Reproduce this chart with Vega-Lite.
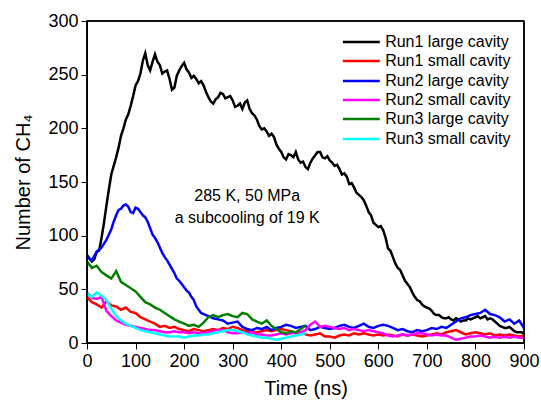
{
  "$schema": "https://vega.github.io/schema/vega-lite/v6.json",
  "width": 437,
  "height": 322,
  "padding": {"left": 87, "top": 21, "right": 17, "bottom": 59},
  "autosize": "none",
  "background": "white",
  "config": {
    "view": {"stroke": "#000000", "strokeWidth": 1.5},
    "axis": {"domainColor": "#000000", "tickColor": "#000000", "zindex": 2}
  },
  "data": {"values": [
    {"t":0,"a":82,"b":43,"c":80,"d":47,"e":76,"f":46},
    {"t":10,"a":76,"b":38,"c":77,"d":42,"e":70,"f":43},
    {"t":20,"a":85,"b":36,"c":85,"d":41,"e":72,"f":47},
    {"t":30,"a":98,"b":33,"c":89,"d":43,"e":66,"f":44},
    {"t":40,"a":128,"b":39,"c":96,"d":30,"e":63,"f":40},
    {"t":50,"a":157,"b":35,"c":106,"d":25,"e":60,"f":32},
    {"t":60,"a":173,"b":34,"c":119,"d":21,"e":67,"f":25},
    {"t":70,"a":193,"b":31,"c":125,"d":19,"e":57,"f":21},
    {"t":80,"a":208,"b":33,"c":129,"d":17,"e":54,"f":18},
    {"t":90,"a":221,"b":29,"c":122,"d":16,"e":51,"f":16},
    {"t":100,"a":240,"b":28,"c":126,"d":15,"e":48,"f":14},
    {"t":110,"a":251,"b":24,"c":122,"d":14,"e":43,"f":12},
    {"t":120,"a":270,"b":22,"c":117,"d":13,"e":38,"f":11},
    {"t":130,"a":254,"b":20,"c":107,"d":12,"e":36,"f":10},
    {"t":140,"a":269,"b":18,"c":98,"d":12,"e":33,"f":9},
    {"t":150,"a":259,"b":15,"c":89,"d":11,"e":31,"f":8},
    {"t":160,"a":253,"b":16,"c":80,"d":10,"e":28,"f":7},
    {"t":170,"a":246,"b":14,"c":73,"d":10,"e":25,"f":6},
    {"t":180,"a":238,"b":15,"c":65,"d":11,"e":22,"f":6},
    {"t":190,"a":254,"b":13,"c":58,"d":10,"e":20,"f":6},
    {"t":200,"a":261,"b":12,"c":52,"d":10,"e":18,"f":5},
    {"t":210,"a":252,"b":11,"c":47,"d":9,"e":16,"f":6},
    {"t":220,"a":249,"b":13,"c":40,"d":10,"e":17,"f":7},
    {"t":230,"a":242,"b":12,"c":31,"d":9,"e":15,"f":7},
    {"t":240,"a":240,"b":11,"c":27,"d":9,"e":19,"f":8},
    {"t":250,"a":229,"b":12,"c":25,"d":10,"e":24,"f":8},
    {"t":260,"a":223,"b":13,"c":23,"d":11,"e":26,"f":9},
    {"t":270,"a":229,"b":12,"c":22,"d":12,"e":24,"f":10},
    {"t":280,"a":232,"b":14,"c":21,"d":12,"e":26,"f":11},
    {"t":290,"a":229,"b":13,"c":18,"d":10,"e":27,"f":12},
    {"t":300,"a":226,"b":15,"c":19,"d":9,"e":25,"f":12},
    {"t":310,"a":221,"b":14,"c":20,"d":9,"e":24,"f":11},
    {"t":320,"a":218,"b":12,"c":15,"d":10,"e":28,"f":10},
    {"t":330,"a":226,"b":11,"c":13,"d":9,"e":27,"f":8},
    {"t":340,"a":214,"b":10,"c":12,"d":10,"e":22,"f":7},
    {"t":350,"a":208,"b":10,"c":14,"d":8,"e":20,"f":6},
    {"t":360,"a":199,"b":11,"c":13,"d":8,"e":18,"f":5},
    {"t":370,"a":197,"b":12,"c":15,"d":7,"e":21,"f":5},
    {"t":380,"a":195,"b":11,"c":12,"d":7,"e":16,"f":4},
    {"t":390,"a":185,"b":12,"c":14,"d":8,"e":13,"f":3},
    {"t":400,"a":178,"b":13,"c":15,"d":9,"e":10,"f":4},
    {"t":410,"a":171,"b":12,"c":17,"d":8,"e":9,"f":5},
    {"t":420,"a":175,"b":11,"c":16,"d":9,"e":11,"f":6},
    {"t":430,"a":178,"b":9,"c":14,"d":10,"e":10,"f":7},
    {"t":440,"a":168,"b":10,"c":15,"d":10,"e":13,"f":8},
    {"t":450,"a":164,"b":8,"c":16,"d":12,"e":16,"f":9},
    {"t":460,"a":168,"b":7,"c":12,"d":17},
    {"t":470,"a":175,"b":8,"c":13,"d":20},
    {"t":480,"a":178,"b":9,"c":15,"d":15},
    {"t":490,"a":172,"b":6,"c":14,"d":16},
    {"t":500,"a":170,"b":6,"c":13,"d":15},
    {"t":510,"a":165,"b":5,"c":14,"d":14},
    {"t":520,"a":162,"b":7,"c":16,"d":13},
    {"t":530,"a":158,"b":8,"c":17,"d":14},
    {"t":540,"a":148,"b":7,"c":15,"d":12},
    {"t":550,"a":145,"b":9,"c":14,"d":13},
    {"t":560,"a":138,"b":8,"c":16,"d":12},
    {"t":570,"a":133,"b":9,"c":18,"d":11},
    {"t":580,"a":122,"b":8,"c":15,"d":12},
    {"t":590,"a":112,"b":7,"c":14,"d":11},
    {"t":600,"a":108,"b":8,"c":16,"d":10},
    {"t":610,"a":105,"b":7,"c":17,"d":9},
    {"t":620,"a":88,"b":8,"c":16,"d":7},
    {"t":630,"a":80,"b":7,"c":14,"d":6},
    {"t":640,"a":70,"b":6,"c":12,"d":7},
    {"t":650,"a":63,"b":8,"c":13,"d":8},
    {"t":660,"a":55,"b":7,"c":11,"d":7},
    {"t":670,"a":47,"b":8,"c":10,"d":8},
    {"t":680,"a":40,"b":7,"c":12,"d":9},
    {"t":690,"a":36,"b":6,"c":11,"d":9},
    {"t":700,"a":33,"b":7,"c":12,"d":8},
    {"t":710,"a":30,"b":8,"c":14,"d":7},
    {"t":720,"a":26,"b":9,"c":13,"d":8},
    {"t":730,"a":24,"b":8,"c":15,"d":7},
    {"t":740,"a":23,"b":10,"c":14,"d":7},
    {"t":750,"a":22,"b":11,"c":17,"d":5},
    {"t":760,"a":23,"b":12,"c":20,"d":3},
    {"t":770,"a":20,"b":10,"c":23,"d":4},
    {"t":780,"a":21,"b":8,"c":24,"d":5},
    {"t":790,"a":22,"b":9,"c":26,"d":6},
    {"t":800,"a":24,"b":10,"c":27,"d":6},
    {"t":810,"a":23,"b":9,"c":28,"d":7},
    {"t":820,"a":25,"b":8,"c":31,"d":6},
    {"t":830,"a":23,"b":9,"c":27,"d":5},
    {"t":840,"a":20,"b":7,"c":26,"d":6},
    {"t":850,"a":16,"b":8,"c":24,"d":5},
    {"t":860,"a":14,"b":7,"c":20,"d":6},
    {"t":870,"a":15,"b":8,"c":22,"d":5},
    {"t":880,"a":11,"b":7,"c":18,"d":6},
    {"t":890,"a":10,"b":6,"c":21,"d":5},
    {"t":900,"a":9,"b":7,"c":14,"d":5},
    {"t":5,"a":79},{"t":15,"a":78},{"t":25,"a":86},{"t":35,"a":112},{"t":45,"a":143},
    {"t":55,"a":165,"c":113},{"t":65,"a":182,"c":124},{"t":75,"a":200,"c":128},{"t":85,"a":213,"c":127},
    {"t":95,"a":230,"c":121},{"t":105,"a":244,"c":125},{"t":115,"a":263,"c":119},{"t":125,"a":259,"c":113},
    {"t":135,"a":262,"c":101},{"t":145,"a":262,"c":94},{"t":155,"a":251,"c":84},{"t":165,"a":254,"c":77},
    {"t":175,"a":236,"c":69},{"t":185,"a":249,"c":60},{"t":195,"a":258,"c":55},{"t":205,"a":255,"c":49},
    {"t":215,"a":247,"c":43},{"t":225,"a":246,"c":34},{"t":235,"a":244,"c":28},
    {"t":245,"a":234},{"t":255,"a":225},{"t":265,"a":227},{"t":275,"a":233},{"t":285,"a":228},{"t":295,"a":230},
    {"t":305,"a":220},{"t":315,"a":223},{"t":325,"a":224},{"t":335,"a":218},{"t":345,"a":212},{"t":355,"a":202},
    {"t":365,"a":200},{"t":375,"a":193},{"t":385,"a":192},{"t":395,"a":181},{"t":405,"a":173},{"t":415,"a":176},
    {"t":425,"a":173},{"t":435,"a":171},{"t":445,"a":169},{"t":455,"a":162},{"t":465,"a":172},{"t":475,"a":178},
    {"t":485,"a":173},{"t":495,"a":174},{"t":505,"a":168},{"t":515,"a":166},{"t":525,"a":157},{"t":535,"a":155},
    {"t":545,"a":149},{"t":555,"a":140},{"t":565,"a":136},{"t":575,"a":128},{"t":585,"a":119},{"t":595,"a":110},
    {"t":605,"a":109},{"t":615,"a":98},{"t":625,"a":86},{"t":635,"a":74},{"t":645,"a":68},{"t":655,"a":58},
    {"t":665,"a":52},{"t":675,"a":43},{"t":685,"a":39},{"t":695,"a":34},{"t":705,"a":32},{"t":715,"a":27},
    {"t":725,"a":26},{"t":735,"a":23},{"t":745,"a":24},{"t":755,"a":21},{"t":765,"a":22},{"t":775,"a":21},
    {"t":785,"a":23},{"t":795,"a":23},{"t":805,"a":25},{"t":815,"a":24},{"t":825,"a":22},{"t":835,"a":22},
    {"t":845,"a":18},{"t":855,"a":15},{"t":865,"a":14},{"t":875,"a":13},{"t":885,"a":10},{"t":895,"a":10}
  ]},
  "transform": [
    {"fold": ["a","b","c","d","e","f"], "as": ["s","v"]},
    {"filter": "isValid(datum.v)"}
  ],
  "layer": [
    {
      "mark": {"type": "line", "strokeWidth": 2.5},
      "encoding": {
        "x": {"field": "t", "type": "quantitative", "scale": {"domain": [0, 900], "nice": false},
          "axis": {"title": "Time (ns)", "titleFontSize": 20, "titleFont": "Liberation Sans", "titleFontWeight": "normal", "titleColor": "#000000", "titlePadding": 8,
            "grid": false, "labelFlush": false, "labelFont": "Liberation Sans", "labelColor": "#000000",
            "values": [0,50,100,150,200,250,300,350,400,450,500,550,600,650,700,750,800,850,900],
            "labelExpr": "datum.value % 100 === 0 ? datum.label : ''",
            "tickSize": {"condition": {"test": "datum.value % 100 === 0", "value": 6}, "value": 3.5},
            "labelFontSize": 18, "labelPadding": 3}},
        "y": {"field": "v", "type": "quantitative", "scale": {"domain": [0, 300], "nice": false},
          "axis": {"title": "Number of CH₄", "titleFontSize": 20, "titleFont": "Liberation Sans", "titleFontWeight": "normal", "titleColor": "#000000", "titlePadding": 14,
            "grid": false, "labelFlush": false, "labelFont": "Liberation Sans", "labelColor": "#000000",
            "values": [0,25,50,75,100,125,150,175,200,225,250,275,300],
            "labelExpr": "datum.value % 50 === 0 ? datum.label : ''",
            "tickSize": {"condition": {"test": "datum.value % 50 === 0", "value": 6}, "value": 3.5},
            "labelFontSize": 18, "labelPadding": 3}},
        "color": {"field": "s", "type": "nominal",
          "scale": {"domain": ["a","b","c","d","e","f"], "range": ["#000000","#FF0000","#0000FF","#FF00FF","#008000","#00FFFF"]},
          "legend": null}
      }
    },
    {"data": {"values": [{}]}, "mark": {"type": "rule", "color": "#000000", "strokeWidth": 1.5}, "encoding": {"x": {"datum": 0, "type": "quantitative"}}},
    {"data": {"values": [{}]}, "mark": {"type": "rule", "color": "#000000", "strokeWidth": 1.5}, "encoding": {"x": {"datum": 900, "type": "quantitative"}}},
    {"data": {"values": [{}]}, "mark": {"type": "rule", "color": "#000000", "strokeWidth": 1.5}, "encoding": {"y": {"datum": 0, "type": "quantitative"}}},
    {"data": {"values": [{}]}, "mark": {"type": "rule", "color": "#000000", "strokeWidth": 1.5}, "encoding": {"y": {"datum": 300, "type": "quantitative"}}},
    {"data": {"values": [{}]}, "mark": {"type": "rule", "color": "#000000", "strokeWidth": 2.5}, "encoding": {"x": {"datum": 527, "type": "quantitative"}, "x2": {"datum": 603}, "y": {"datum": 280.4, "type": "quantitative"}}},
    {"data": {"values": [{}]}, "mark": {"type": "rule", "color": "#FF0000", "strokeWidth": 2.5}, "encoding": {"x": {"datum": 527, "type": "quantitative"}, "x2": {"datum": 603}, "y": {"datum": 262.7, "type": "quantitative"}}},
    {"data": {"values": [{}]}, "mark": {"type": "rule", "color": "#0000FF", "strokeWidth": 2.5}, "encoding": {"x": {"datum": 527, "type": "quantitative"}, "x2": {"datum": 603}, "y": {"datum": 244.1, "type": "quantitative"}}},
    {"data": {"values": [{}]}, "mark": {"type": "rule", "color": "#FF00FF", "strokeWidth": 2.5}, "encoding": {"x": {"datum": 527, "type": "quantitative"}, "x2": {"datum": 603}, "y": {"datum": 226.4, "type": "quantitative"}}},
    {"data": {"values": [{}]}, "mark": {"type": "rule", "color": "#008000", "strokeWidth": 2.5}, "encoding": {"x": {"datum": 527, "type": "quantitative"}, "x2": {"datum": 603}, "y": {"datum": 208.7, "type": "quantitative"}}},
    {"data": {"values": [{}]}, "mark": {"type": "rule", "color": "#00FFFF", "strokeWidth": 2.5}, "encoding": {"x": {"datum": 527, "type": "quantitative"}, "x2": {"datum": 603}, "y": {"datum": 190.1, "type": "quantitative"}}},
    {"data": {"values": [{}]}, "mark": {"type": "text", "text": "Run1 large cavity", "align": "left", "baseline": "middle", "fontSize": 16, "font": "Liberation Sans", "color": "#000000"}, "encoding": {"x": {"datum": 614, "type": "quantitative"}, "y": {"datum": 280.4, "type": "quantitative"}}},
    {"data": {"values": [{}]}, "mark": {"type": "text", "text": "Run1 small cavity", "align": "left", "baseline": "middle", "fontSize": 16, "font": "Liberation Sans", "color": "#000000"}, "encoding": {"x": {"datum": 614, "type": "quantitative"}, "y": {"datum": 262.7, "type": "quantitative"}}},
    {"data": {"values": [{}]}, "mark": {"type": "text", "text": "Run2 large cavity", "align": "left", "baseline": "middle", "fontSize": 16, "font": "Liberation Sans", "color": "#000000"}, "encoding": {"x": {"datum": 614, "type": "quantitative"}, "y": {"datum": 244.1, "type": "quantitative"}}},
    {"data": {"values": [{}]}, "mark": {"type": "text", "text": "Run2 small cavity", "align": "left", "baseline": "middle", "fontSize": 16, "font": "Liberation Sans", "color": "#000000"}, "encoding": {"x": {"datum": 614, "type": "quantitative"}, "y": {"datum": 226.4, "type": "quantitative"}}},
    {"data": {"values": [{}]}, "mark": {"type": "text", "text": "Run3 large cavity", "align": "left", "baseline": "middle", "fontSize": 16, "font": "Liberation Sans", "color": "#000000"}, "encoding": {"x": {"datum": 614, "type": "quantitative"}, "y": {"datum": 208.7, "type": "quantitative"}}},
    {"data": {"values": [{}]}, "mark": {"type": "text", "text": "Run3 small cavity", "align": "left", "baseline": "middle", "fontSize": 16, "font": "Liberation Sans", "color": "#000000"}, "encoding": {"x": {"datum": 614, "type": "quantitative"}, "y": {"datum": 190.1, "type": "quantitative"}}},
    {
      "data": {"values": [{}]},
      "mark": {"type": "text", "fontSize": 16, "font": "Liberation Sans", "align": "center", "baseline": "middle", "lineHeight": 22, "color": "#000000",
        "text": ["285 K, 50 MPa", "a subcooling of 19 K"]},
      "encoding": {
        "x": {"datum": 330, "type": "quantitative"},
        "y": {"datum": 137, "type": "quantitative"}
      }
    }
  ]
}
